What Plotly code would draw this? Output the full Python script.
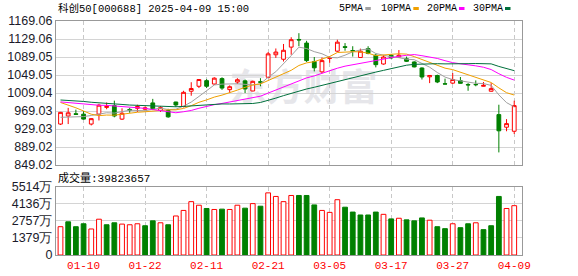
import plotly.graph_objects as go
import pandas as pd

# ---------------- data ----------------
dates = ["01-07", "01-08", "01-09", "01-10", "01-13", "01-14", "01-15", "01-16", "01-17", "01-20",
         "01-21", "01-22", "01-23", "01-24", "01-27", "02-05", "02-06", "02-07", "02-10", "02-11",
         "02-12", "02-13", "02-14", "02-17", "02-18", "02-19", "02-20", "02-21", "02-24", "02-25",
         "02-26", "02-27", "02-28", "03-03", "03-04", "03-05", "03-06", "03-07", "03-10", "03-11",
         "03-12", "03-13", "03-14", "03-17", "03-18", "03-19", "03-20", "03-21", "03-24", "03-25",
         "03-26", "03-27", "03-28", "03-31", "04-01", "04-02", "04-03", "04-07", "04-08", "04-09"]

opens = [940, 958, 963, 962, 940, 962, 977, 981, 951, 972.5,
         975, 973, 987, 970, 970, 989, 979, 1013, 1024, 1036.5,
         1029, 1041, 1016.5, 1033.5, 1036, 1013.5, 1034, 1044, 1094, 1084,
         1111, 1128, 1120, 1079, 1056, 1086, 1102, 1112, 1103.5, 1088,
         1107.6, 1093, 1073.5, 1093, 1089, 1085, 1078, 1064.6, 1045, 1048,
         1029.5, 1031, 1036.5, 1028, 1028, 1024, 1013, 961, 933, 924]
highs = [967, 976, 972, 969, 953, 985, 988, 992, 975, 976,
         983, 979, 996, 980, 974, 989.5, 1014, 1033, 1040, 1040,
         1044, 1044, 1026, 1042, 1039, 1036.5, 1042, 1100, 1108, 1118,
         1133, 1142, 1125, 1089, 1088, 1090.5, 1127.5, 1120, 1113, 1107.6,
         1113, 1096, 1093, 1095, 1104.5, 1090, 1079.4, 1066, 1049, 1049.8,
         1041, 1053.5, 1044.6, 1031, 1037, 1033.5, 1031, 983, 951, 992]
lows = [938, 940, 961, 950, 937, 948, 973, 955, 949, 965,
        967, 970, 971, 967, 954, 978, 977, 1003, 1020, 1020,
        1027, 1016, 1009, 1029, 1009, 1013, 1024, 1042, 1087, 1079,
        1094, 1113, 1078, 1057, 1053, 1076, 1100, 1103, 1090, 1088,
        1095, 1066, 1072, 1085, 1087, 1078, 1066, 1039, 1031, 1031,
        1029, 1029, 1030, 1014, 1024, 1023.5, 1012, 877, 924, 918]
closes = [966, 965, 961.5, 951, 952, 982, 979, 958, 964, 971,
          979, 976, 974, 976.5, 956, 982.5, 1010.5, 1019, 1039, 1024,
          1042, 1020, 1023, 1038.5, 1018, 1035, 1033, 1096, 1100, 1104,
          1127.5, 1127, 1081, 1065, 1081, 1087, 1122, 1110.5, 1102.5, 1102,
          1097, 1072, 1089, 1087, 1093, 1079.5, 1067, 1044.6, 1048, 1033.5,
          1029, 1039, 1030.5, 1027, 1027.5, 1026, 1018.7, 925, 941, 981]
# closes of the 29 sessions before 01-07 (off-screen), estimated from where the MA lines start
prior_closes = [985, 990, 1000, 1005, 1010, 1000, 1005, 1015, 1010, 1000,
                995, 1000, 990, 985, 990, 985, 980, 990, 995, 995,
                1020, 1025, 1022, 1023.5, 1014.5, 965, 961.5, 943, 939.5]
# volume in 万
volumes = [2285, 2679, 2285, 2521, 2101, 2889, 2442, 2600, 2495, 2442,
           2521, 2363, 2757, 2600, 2442, 3151, 3598, 4307, 4018, 3755,
           3676, 3703, 3676, 4018, 3781, 4149, 3939, 5016, 4727, 4307,
           4806, 4806, 4806, 4044, 3598, 3440, 4464, 3860, 3466, 3230,
           3230, 3466, 3283, 2915, 2967, 2836, 2757, 2994, 2810, 2285,
           2127, 2521, 2206, 2521, 2600, 2048, 2363, 4727, 3755, 3982]

price_ticks = [849.02, 889.02, 929.03, 969.03, 1009.04, 1049.05, 1089.05, 1129.06, 1169.06]
price_tick_labels = ["849.02", "889.02", "929.03", "969.03", "1009.04", "1049.05", "1089.05", "1129.06", "1169.06"]
vol_ticks = [0, 1378.5, 2757, 4135.5, 5514]
vol_tick_labels = ["0", "1379万", "2757万", "4136万", "5514万"]
date_ticks = ["01-10", "01-22", "02-11", "02-21", "03-05", "03-17", "03-27", "04-09"]
ma_periods = [5, 10, 20, 30]
ma_names = ["5PMA", "10PMA", "20PMA", "30PMA"]
title_text = "科创50[000688] 2025-04-09 15:00"
last_volume = "39823657"

# ---------------- styles ----------------
RED = "#ff0000"
GREEN = "#008000"
MA_COLORS = ["#a0a0a0", "#f0a000", "#ff00ff", "#00703c"]
W, H = 578, 276
ML, MR, MT, MB = 56, 56, 21, 21
PW, PH = W - ML - MR, H - MT - MB


def px_x(px):
    return (px - ML) / PW


def px_y(py):
    return (H - MB - py) / PH


x = list(range(len(dates)))
all_close = pd.Series(prior_closes + closes)
n_prior = len(prior_closes)

fig = go.Figure()

fig.add_trace(go.Candlestick(
    x=x, open=opens, high=highs, low=lows, close=closes,
    increasing=dict(line=dict(color=RED, width=1), fillcolor="#ffffff"),
    decreasing=dict(line=dict(color=GREEN, width=1), fillcolor=GREEN),
    whiskerwidth=0, xaxis="x", yaxis="y", showlegend=False, hoverinfo="skip"))

for p, name, col in zip(ma_periods, ma_names, MA_COLORS):
    ma = all_close.rolling(p).mean().iloc[n_prior:].tolist()
    fig.add_trace(go.Scatter(x=x, y=ma, mode="lines", name=name,
                             line=dict(color=col, width=1), xaxis="x", yaxis="y",
                             showlegend=False, hoverinfo="skip"))

prev = [prior_closes[-1]] + closes[:-1]
up = [c >= pc for c, pc in zip(closes, prev)]
fig.add_trace(go.Bar(
    x=x, y=volumes, width=0.62,
    marker=dict(color=["#ffffff" if u else GREEN for u in up],
                line=dict(color=[RED if u else GREEN for u in up], width=1)),
    xaxis="x2", yaxis="y2", showlegend=False, hoverinfo="skip"))

tickpos = [dates.index(d) for d in date_ticks]
xrange = [-0.585, 60.01]
common_x = dict(range=xrange, tickvals=tickpos, ticktext=date_ticks, showgrid=True,
                gridcolor="#c8c8c8", griddash="4px,3px", gridwidth=1, zeroline=False,
                showline=True, mirror=True, linecolor="#999999", linewidth=1, ticks="",
                automargin=False, fixedrange=True)
common_y = dict(showgrid=True, gridcolor="#d4d4d4", gridwidth=1, zeroline=False,
                showline=True, mirror=True, linecolor="#999999", linewidth=1, ticks="",
                automargin=False, tickfont=dict(family="Liberation Sans, Arial", size=12.5, color="#1a1a2a"))

fig.update_layout(
    width=W, height=H,
    margin=dict(l=ML, r=MR, t=MT, b=MB, pad=0),
    paper_bgcolor="#ffffff", plot_bgcolor="#ffffff",
    showlegend=False,
    xaxis=dict(common_x, domain=[0, 1], anchor="y", showticklabels=False,
               rangeslider=dict(visible=False)),
    xaxis2=dict(common_x, domain=[0, 1], anchor="y2", matches="x", showticklabels=True,
                tickfont=dict(family="Liberation Mono", size=11, color=RED)),
    yaxis=dict(common_y, domain=[px_y(165), 1], range=[price_ticks[0], price_ticks[-1]],
               tickvals=price_ticks, ticktext=price_tick_labels, anchor="x"),
    yaxis2=dict(common_y, domain=[0, px_y(186.7)], range=[vol_ticks[0], vol_ticks[-1]],
                tickvals=vol_ticks, ticktext=vol_tick_labels, anchor="x2"),
)

ann = []
ann.append(dict(text=title_text, x=px_x(56), y=px_y(8.5), xref="paper", yref="paper",
                xanchor="left", yanchor="middle", showarrow=False,
                font=dict(family="Liberation Mono, Noto Sans CJK SC", size=10.5, color="#000000")))
ann.append(dict(text="成交量:" + last_volume, x=px_x(56), y=px_y(177.5), xref="paper", yref="paper",
                xanchor="left", yanchor="middle", showarrow=False,
                font=dict(family="Liberation Mono, Noto Sans CJK SC", size=11, color="#000000")))
leg_text_x = [338.3, 380, 425.7, 471.7]
leg_sw_x = [365.3, 413.3, 459, 505]
shapes = []
for name, col, tx, sx in zip(ma_names, MA_COLORS, leg_text_x, leg_sw_x):
    ann.append(dict(text=name, x=px_x(tx - 1), y=px_y(8.5), xref="paper", yref="paper",
                    xanchor="left", yanchor="middle", showarrow=False,
                    font=dict(family="Liberation Mono", size=10, color="#000000")))
    shapes.append(dict(type="rect", xref="paper", yref="paper",
                       x0=px_x(sx), x1=px_x(sx + 5.5), y0=px_y(10), y1=px_y(7),
                       fillcolor=col, line=dict(width=0)))
# watermark
shapes.append(dict(type="rect", xref="paper", yref="paper", layer="between",
                   x0=px_x(225), x1=px_x(382), y0=px_y(110), y1=px_y(72),
                   line=dict(width=0), fillcolor="rgba(0,0,0,0)",
                   label=dict(text="<b>东方财富</b>", textposition="middle center",
                              font=dict(family="Noto Sans CJK SC", size=37, color="#e6e6ea"))))
fig.update_layout(annotations=ann, shapes=shapes)

fig.write_html("out.html")
